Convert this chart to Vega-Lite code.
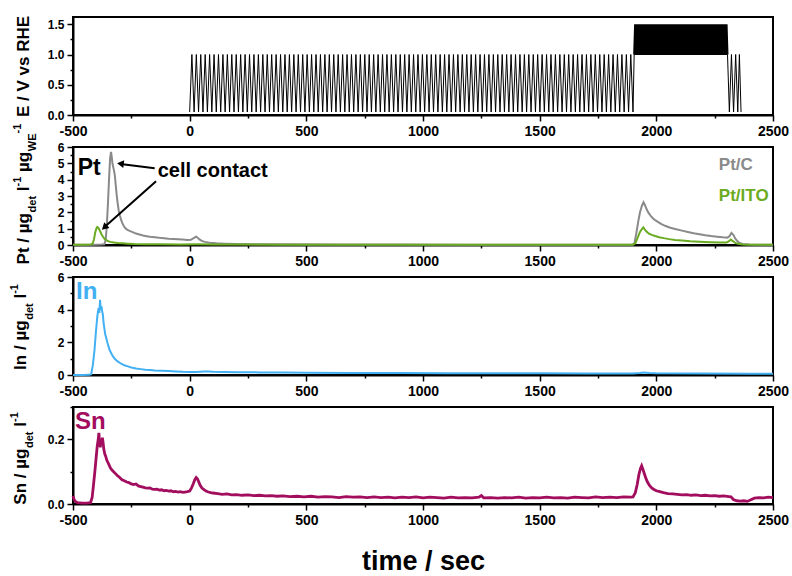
{
  "$schema": "https://vega.github.io/schema/vega-lite/v6.json",
  "padding": {"left": 7, "top": 14, "right": 10, "bottom": 0},
  "spacing": 32,
  "bounds": "flush",
  "config": {
    "font": "Liberation Sans",
    "view": {"stroke": "#000", "strokeWidth": 2},
    "axis": {"grid": false, "domainColor": "#000", "domainWidth": 2, "tickColor": "#000", "tickWidth": 1.5, "labelFont": "Liberation Sans", "labelFontWeight": "bold", "labelColor": "#000", "labelFlush": false, "labelOverlap": false, "labelPadding": 3, "titleFont": "Liberation Sans", "titleFontWeight": "bold", "titleColor": "#000"},
    "axisX": {"labelFontSize": 14},
    "axisY": {"labelFontSize": 12, "titleFontSize": 17, "titleBaseline": "alphabetic", "titleX": -45}
  },
  "datasets": {
    "E": [
      {"t":0,"E":0.05},{"t":9.5,"E":1},{"t":19,"E":0.05},{"t":28.5,"E":1},{"t":38,"E":0.05},{"t":47.5,"E":1},{"t":57,"E":0.05},{"t":66.5,"E":1},{"t":76,"E":0.05},{"t":85.5,"E":1},
      {"t":95,"E":0.05},{"t":104.5,"E":1},{"t":114,"E":0.05},{"t":123.5,"E":1},{"t":133,"E":0.05},{"t":142.5,"E":1},{"t":152,"E":0.05},{"t":161.5,"E":1},{"t":171,"E":0.05},{"t":180.5,"E":1},
      {"t":190,"E":0.05},{"t":199.5,"E":1},{"t":209,"E":0.05},{"t":218.5,"E":1},{"t":228,"E":0.05},{"t":237.5,"E":1},{"t":247,"E":0.05},{"t":256.5,"E":1},{"t":266,"E":0.05},{"t":275.5,"E":1},
      {"t":285,"E":0.05},{"t":294.5,"E":1},{"t":304,"E":0.05},{"t":313.5,"E":1},{"t":323,"E":0.05},{"t":332.5,"E":1},{"t":342,"E":0.05},{"t":351.5,"E":1},{"t":361,"E":0.05},{"t":370.5,"E":1},
      {"t":380,"E":0.05},{"t":389.5,"E":1},{"t":399,"E":0.05},{"t":408.5,"E":1},{"t":418,"E":0.05},{"t":427.5,"E":1},{"t":437,"E":0.05},{"t":446.5,"E":1},{"t":456,"E":0.05},{"t":465.5,"E":1},
      {"t":475,"E":0.05},{"t":484.5,"E":1},{"t":494,"E":0.05},{"t":503.5,"E":1},{"t":513,"E":0.05},{"t":522.5,"E":1},{"t":532,"E":0.05},{"t":541.5,"E":1},{"t":551,"E":0.05},{"t":560.5,"E":1},
      {"t":570,"E":0.05},{"t":579.5,"E":1},{"t":589,"E":0.05},{"t":598.5,"E":1},{"t":608,"E":0.05},{"t":617.5,"E":1},{"t":627,"E":0.05},{"t":636.5,"E":1},{"t":646,"E":0.05},{"t":655.5,"E":1},
      {"t":665,"E":0.05},{"t":674.5,"E":1},{"t":684,"E":0.05},{"t":693.5,"E":1},{"t":703,"E":0.05},{"t":712.5,"E":1},{"t":722,"E":0.05},{"t":731.5,"E":1},{"t":741,"E":0.05},{"t":750.5,"E":1},
      {"t":760,"E":0.05},{"t":769.5,"E":1},{"t":779,"E":0.05},{"t":788.5,"E":1},{"t":798,"E":0.05},{"t":807.5,"E":1},{"t":817,"E":0.05},{"t":826.5,"E":1},{"t":836,"E":0.05},{"t":845.5,"E":1},
      {"t":855,"E":0.05},{"t":864.5,"E":1},{"t":874,"E":0.05},{"t":883.5,"E":1},{"t":893,"E":0.05},{"t":902.5,"E":1},{"t":912,"E":0.05},{"t":921.5,"E":1},{"t":931,"E":0.05},{"t":940.5,"E":1},
      {"t":950,"E":0.05},{"t":959.5,"E":1},{"t":969,"E":0.05},{"t":978.5,"E":1},{"t":988,"E":0.05},{"t":997.5,"E":1},{"t":1007,"E":0.05},{"t":1016.5,"E":1},{"t":1026,"E":0.05},{"t":1035.5,"E":1},
      {"t":1045,"E":0.05},{"t":1054.5,"E":1},{"t":1064,"E":0.05},{"t":1073.5,"E":1},{"t":1083,"E":0.05},{"t":1092.5,"E":1},{"t":1102,"E":0.05},{"t":1111.5,"E":1},{"t":1121,"E":0.05},{"t":1130.5,"E":1},
      {"t":1140,"E":0.05},{"t":1149.5,"E":1},{"t":1159,"E":0.05},{"t":1168.5,"E":1},{"t":1178,"E":0.05},{"t":1187.5,"E":1},{"t":1197,"E":0.05},{"t":1206.5,"E":1},{"t":1216,"E":0.05},{"t":1225.5,"E":1},
      {"t":1235,"E":0.05},{"t":1244.5,"E":1},{"t":1254,"E":0.05},{"t":1263.5,"E":1},{"t":1273,"E":0.05},{"t":1282.5,"E":1},{"t":1292,"E":0.05},{"t":1301.5,"E":1},{"t":1311,"E":0.05},{"t":1320.5,"E":1},
      {"t":1330,"E":0.05},{"t":1339.5,"E":1},{"t":1349,"E":0.05},{"t":1358.5,"E":1},{"t":1368,"E":0.05},{"t":1377.5,"E":1},{"t":1387,"E":0.05},{"t":1396.5,"E":1},{"t":1406,"E":0.05},{"t":1415.5,"E":1},
      {"t":1425,"E":0.05},{"t":1434.5,"E":1},{"t":1444,"E":0.05},{"t":1453.5,"E":1},{"t":1463,"E":0.05},{"t":1472.5,"E":1},{"t":1482,"E":0.05},{"t":1491.5,"E":1},{"t":1501,"E":0.05},{"t":1510.5,"E":1},
      {"t":1520,"E":0.05},{"t":1529.5,"E":1},{"t":1539,"E":0.05},{"t":1548.5,"E":1},{"t":1558,"E":0.05},{"t":1567.5,"E":1},{"t":1577,"E":0.05},{"t":1586.5,"E":1},{"t":1596,"E":0.05},{"t":1605.5,"E":1},
      {"t":1615,"E":0.05},{"t":1624.5,"E":1},{"t":1634,"E":0.05},{"t":1643.5,"E":1},{"t":1653,"E":0.05},{"t":1662.5,"E":1},{"t":1672,"E":0.05},{"t":1681.5,"E":1},{"t":1691,"E":0.05},{"t":1700.5,"E":1},
      {"t":1710,"E":0.05},{"t":1719.5,"E":1},{"t":1729,"E":0.05},{"t":1738.5,"E":1},{"t":1748,"E":0.05},{"t":1757.5,"E":1},{"t":1767,"E":0.05},{"t":1776.5,"E":1},{"t":1786,"E":0.05},{"t":1795.5,"E":1},
      {"t":1805,"E":0.05},{"t":1814.5,"E":1},{"t":1824,"E":0.05},{"t":1833.5,"E":1},{"t":1843,"E":0.05},{"t":1852.5,"E":1},{"t":1862,"E":0.05},{"t":1871.5,"E":1},{"t":1881,"E":0.05},{"t":1890.5,"E":1},
      {"t":1900,"E":0.05},{"t":1905,"E":1},
      {"t":2305,"E":1},{"t":2313,"E":0.05},{"t":2322,"E":1},{"t":2331,"E":0.05},{"t":2340,"E":1},{"t":2349,"E":0.05},{"t":2356,"E":1},{"t":2363,"E":0.05}
    ],
    "block": [
      {"t":1905,"E":1},{"t":1909,"E":1.5},{"t":1913,"E":1},{"t":1917,"E":1.5},{"t":1921,"E":1},{"t":1925,"E":1.5},{"t":1929,"E":1},{"t":1933,"E":1.5},{"t":1937,"E":1},{"t":1941,"E":1.5},
      {"t":1945,"E":1},{"t":1949,"E":1.5},{"t":1953,"E":1},{"t":1957,"E":1.5},{"t":1961,"E":1},{"t":1965,"E":1.5},{"t":1969,"E":1},{"t":1973,"E":1.5},{"t":1977,"E":1},{"t":1981,"E":1.5},
      {"t":1985,"E":1},{"t":1989,"E":1.5},{"t":1993,"E":1},{"t":1997,"E":1.5},{"t":2001,"E":1},{"t":2005,"E":1.5},{"t":2009,"E":1},{"t":2013,"E":1.5},{"t":2017,"E":1},{"t":2021,"E":1.5},
      {"t":2025,"E":1},{"t":2029,"E":1.5},{"t":2033,"E":1},{"t":2037,"E":1.5},{"t":2041,"E":1},{"t":2045,"E":1.5},{"t":2049,"E":1},{"t":2053,"E":1.5},{"t":2057,"E":1},{"t":2061,"E":1.5},
      {"t":2065,"E":1},{"t":2069,"E":1.5},{"t":2073,"E":1},{"t":2077,"E":1.5},{"t":2081,"E":1},{"t":2085,"E":1.5},{"t":2089,"E":1},{"t":2093,"E":1.5},{"t":2097,"E":1},{"t":2101,"E":1.5},
      {"t":2105,"E":1},{"t":2109,"E":1.5},{"t":2113,"E":1},{"t":2117,"E":1.5},{"t":2121,"E":1},{"t":2125,"E":1.5},{"t":2129,"E":1},{"t":2133,"E":1.5},{"t":2137,"E":1},{"t":2141,"E":1.5},
      {"t":2145,"E":1},{"t":2149,"E":1.5},{"t":2153,"E":1},{"t":2157,"E":1.5},{"t":2161,"E":1},{"t":2165,"E":1.5},{"t":2169,"E":1},{"t":2173,"E":1.5},{"t":2177,"E":1},{"t":2181,"E":1.5},
      {"t":2185,"E":1},{"t":2189,"E":1.5},{"t":2193,"E":1},{"t":2197,"E":1.5},{"t":2201,"E":1},{"t":2205,"E":1.5},{"t":2209,"E":1},{"t":2213,"E":1.5},{"t":2217,"E":1},{"t":2221,"E":1.5},
      {"t":2225,"E":1},{"t":2229,"E":1.5},{"t":2233,"E":1},{"t":2237,"E":1.5},{"t":2241,"E":1},{"t":2245,"E":1.5},{"t":2249,"E":1},{"t":2253,"E":1.5},{"t":2257,"E":1},{"t":2261,"E":1.5},
      {"t":2265,"E":1},{"t":2269,"E":1.5},{"t":2273,"E":1},{"t":2277,"E":1.5},{"t":2281,"E":1},{"t":2285,"E":1.5},{"t":2289,"E":1},{"t":2293,"E":1.5},{"t":2297,"E":1},{"t":2301,"E":1.5},
      {"t":2305,"E":1}
    ],
    "pt": [
      {"s":"Pt/C","t":-500,"v":0.02},{"s":"Pt/C","t":-470,"v":0.01},{"s":"Pt/C","t":-440,"v":0.02},{"s":"Pt/C","t":-410,"v":0.02},{"s":"Pt/C","t":-380,"v":0.03},{"s":"Pt/C","t":-366,"v":0.04},
      {"s":"Pt/C","t":-360,"v":0.3},{"s":"Pt/C","t":-355,"v":1.2},{"s":"Pt/C","t":-350,"v":2.6},{"s":"Pt/C","t":-345,"v":4.2},{"s":"Pt/C","t":-341,"v":5.3},{"s":"Pt/C","t":-337,"v":5.7},
      {"s":"Pt/C","t":-334,"v":5.4},{"s":"Pt/C","t":-331,"v":5.0},{"s":"Pt/C","t":-328,"v":4.8},{"s":"Pt/C","t":-325,"v":4.6},{"s":"Pt/C","t":-321,"v":4.3},{"s":"Pt/C","t":-317,"v":3.7},
      {"s":"Pt/C","t":-313,"v":3.1},{"s":"Pt/C","t":-309,"v":2.6},{"s":"Pt/C","t":-304,"v":2.1},{"s":"Pt/C","t":-299,"v":1.8},{"s":"Pt/C","t":-294,"v":1.55},{"s":"Pt/C","t":-289,"v":1.35},
      {"s":"Pt/C","t":-283,"v":1.18},{"s":"Pt/C","t":-277,"v":1.05},{"s":"Pt/C","t":-270,"v":0.96},{"s":"Pt/C","t":-262,"v":0.9},{"s":"Pt/C","t":-252,"v":0.83},{"s":"Pt/C","t":-242,"v":0.77},
      {"s":"Pt/C","t":-230,"v":0.7},{"s":"Pt/C","t":-215,"v":0.64},{"s":"Pt/C","t":-200,"v":0.58},{"s":"Pt/C","t":-185,"v":0.54},{"s":"Pt/C","t":-170,"v":0.5},{"s":"Pt/C","t":-150,"v":0.47},
      {"s":"Pt/C","t":-130,"v":0.44},{"s":"Pt/C","t":-110,"v":0.42},{"s":"Pt/C","t":-90,"v":0.39},{"s":"Pt/C","t":-70,"v":0.37},{"s":"Pt/C","t":-50,"v":0.35},{"s":"Pt/C","t":-30,"v":0.33},
      {"s":"Pt/C","t":-10,"v":0.31},{"s":"Pt/C","t":5,"v":0.32},{"s":"Pt/C","t":15,"v":0.4},{"s":"Pt/C","t":22,"v":0.47},{"s":"Pt/C","t":28,"v":0.51},{"s":"Pt/C","t":34,"v":0.45},
      {"s":"Pt/C","t":42,"v":0.34},{"s":"Pt/C","t":52,"v":0.25},{"s":"Pt/C","t":65,"v":0.19},{"s":"Pt/C","t":85,"v":0.14},{"s":"Pt/C","t":115,"v":0.1},{"s":"Pt/C","t":150,"v":0.08},
      {"s":"Pt/C","t":200,"v":0.06},{"s":"Pt/C","t":300,"v":0.05},{"s":"Pt/C","t":450,"v":0.04},{"s":"Pt/C","t":650,"v":0.03},{"s":"Pt/C","t":900,"v":0.03},{"s":"Pt/C","t":1200,"v":0.02},
      {"s":"Pt/C","t":1500,"v":0.02},{"s":"Pt/C","t":1800,"v":0.02},{"s":"Pt/C","t":1898,"v":0.02},{"s":"Pt/C","t":1906,"v":0.1},{"s":"Pt/C","t":1914,"v":0.7},{"s":"Pt/C","t":1922,"v":1.4},
      {"s":"Pt/C","t":1930,"v":2.0},{"s":"Pt/C","t":1938,"v":2.4},{"s":"Pt/C","t":1945,"v":2.62},{"s":"Pt/C","t":1951,"v":2.45},{"s":"Pt/C","t":1958,"v":2.2},{"s":"Pt/C","t":1966,"v":1.98},
      {"s":"Pt/C","t":1975,"v":1.8},{"s":"Pt/C","t":1985,"v":1.64},{"s":"Pt/C","t":1995,"v":1.52},{"s":"Pt/C","t":2008,"v":1.4},{"s":"Pt/C","t":2022,"v":1.28},{"s":"Pt/C","t":2040,"v":1.16},
      {"s":"Pt/C","t":2060,"v":1.06},{"s":"Pt/C","t":2085,"v":0.96},{"s":"Pt/C","t":2110,"v":0.88},{"s":"Pt/C","t":2135,"v":0.8},{"s":"Pt/C","t":2160,"v":0.72},{"s":"Pt/C","t":2185,"v":0.66},
      {"s":"Pt/C","t":2210,"v":0.6},{"s":"Pt/C","t":2235,"v":0.55},{"s":"Pt/C","t":2260,"v":0.51},{"s":"Pt/C","t":2285,"v":0.47},{"s":"Pt/C","t":2305,"v":0.45},{"s":"Pt/C","t":2314,"v":0.55},
      {"s":"Pt/C","t":2322,"v":0.74},{"s":"Pt/C","t":2330,"v":0.62},{"s":"Pt/C","t":2338,"v":0.4},{"s":"Pt/C","t":2347,"v":0.24},{"s":"Pt/C","t":2357,"v":0.12},{"s":"Pt/C","t":2370,"v":0.06},
      {"s":"Pt/C","t":2400,"v":0.03},{"s":"Pt/C","t":2450,"v":0.02},{"s":"Pt/C","t":2500,"v":0.02},
      {"s":"Pt/ITO","t":-500,"v":0.02},{"s":"Pt/ITO","t":-460,"v":0.02},{"s":"Pt/ITO","t":-425,"v":0.03},{"s":"Pt/ITO","t":-416,"v":0.08},{"s":"Pt/ITO","t":-410,"v":0.35},{"s":"Pt/ITO","t":-405,"v":0.75},
      {"s":"Pt/ITO","t":-400,"v":1.0},{"s":"Pt/ITO","t":-396,"v":1.1},{"s":"Pt/ITO","t":-392,"v":1.06},{"s":"Pt/ITO","t":-388,"v":0.96},{"s":"Pt/ITO","t":-383,"v":0.82},{"s":"Pt/ITO","t":-378,"v":0.66},
      {"s":"Pt/ITO","t":-372,"v":0.52},{"s":"Pt/ITO","t":-366,"v":0.4},{"s":"Pt/ITO","t":-359,"v":0.31},{"s":"Pt/ITO","t":-350,"v":0.24},{"s":"Pt/ITO","t":-340,"v":0.19},{"s":"Pt/ITO","t":-325,"v":0.15},
      {"s":"Pt/ITO","t":-308,"v":0.12},{"s":"Pt/ITO","t":-288,"v":0.1},{"s":"Pt/ITO","t":-265,"v":0.08},{"s":"Pt/ITO","t":-235,"v":0.06},{"s":"Pt/ITO","t":-190,"v":0.05},{"s":"Pt/ITO","t":-120,"v":0.04},
      {"s":"Pt/ITO","t":-40,"v":0.03},{"s":"Pt/ITO","t":20,"v":0.04},{"s":"Pt/ITO","t":40,"v":0.04},{"s":"Pt/ITO","t":100,"v":0.03},{"s":"Pt/ITO","t":400,"v":0.02},{"s":"Pt/ITO","t":800,"v":0.02},
      {"s":"Pt/ITO","t":1200,"v":0.02},{"s":"Pt/ITO","t":1600,"v":0.02},{"s":"Pt/ITO","t":1900,"v":0.02},{"s":"Pt/ITO","t":1910,"v":0.1},{"s":"Pt/ITO","t":1920,"v":0.45},{"s":"Pt/ITO","t":1930,"v":0.8},
      {"s":"Pt/ITO","t":1938,"v":0.98},{"s":"Pt/ITO","t":1944,"v":1.08},{"s":"Pt/ITO","t":1950,"v":0.96},{"s":"Pt/ITO","t":1958,"v":0.82},{"s":"Pt/ITO","t":1968,"v":0.7},{"s":"Pt/ITO","t":1980,"v":0.62},
      {"s":"Pt/ITO","t":1995,"v":0.55},{"s":"Pt/ITO","t":2012,"v":0.48},{"s":"Pt/ITO","t":2032,"v":0.42},{"s":"Pt/ITO","t":2055,"v":0.36},{"s":"Pt/ITO","t":2080,"v":0.31},{"s":"Pt/ITO","t":2110,"v":0.27},
      {"s":"Pt/ITO","t":2145,"v":0.23},{"s":"Pt/ITO","t":2185,"v":0.2},{"s":"Pt/ITO","t":2230,"v":0.17},{"s":"Pt/ITO","t":2270,"v":0.15},{"s":"Pt/ITO","t":2300,"v":0.15},{"s":"Pt/ITO","t":2310,"v":0.22},
      {"s":"Pt/ITO","t":2319,"v":0.33},{"s":"Pt/ITO","t":2328,"v":0.24},{"s":"Pt/ITO","t":2338,"v":0.13},{"s":"Pt/ITO","t":2350,"v":0.07},{"s":"Pt/ITO","t":2370,"v":0.03},{"s":"Pt/ITO","t":2420,"v":0.02},
      {"s":"Pt/ITO","t":2500,"v":0.02}
    ],
    "ptlab": [{"s":"Pt/C","t":2268,"v":4.62},{"s":"Pt/ITO","t":2268,"v":2.68}],
    "notes": [
      {"label":"Pt","t":-480,"v":4.27},
      {"label":"cell contact","t":-137,"v":4.17}
    ],
    "arrows": [
      {"id":1,"t":-150,"v":4.7,"t2":-296,"v2":4.96},
      {"id":2,"t":-144,"v":3.9,"t2":-361,"v2":1.15}
    ],
    "heads": [
      {"id":1,"t":-292,"v":4.97},
      {"id":2,"t":-362,"v":1.12}
    ],
    "inn": [
      {"t":-500,"v":0.0},{"t":-460,"v":0.0},{"t":-430,"v":0.01},{"t":-422,"v":0.05},{"t":-415,"v":0.6},{"t":-408,"v":1.5},{"t":-402,"v":2.6},{"t":-397,"v":3.4},
      {"t":-393,"v":3.9},{"t":-390,"v":4.1},{"t":-387,"v":3.8},{"t":-384,"v":4.6},{"t":-381,"v":4.0},{"t":-378,"v":4.2},{"t":-375,"v":3.9},{"t":-372,"v":3.7},
      {"t":-369,"v":3.2},{"t":-366,"v":2.9},{"t":-362,"v":2.5},{"t":-358,"v":2.3},{"t":-353,"v":2.0},{"t":-348,"v":1.75},{"t":-342,"v":1.5},{"t":-335,"v":1.3},
      {"t":-328,"v":1.12},{"t":-320,"v":0.98},{"t":-310,"v":0.85},{"t":-300,"v":0.75},{"t":-290,"v":0.66},{"t":-280,"v":0.6},{"t":-265,"v":0.53},{"t":-250,"v":0.46},
      {"t":-230,"v":0.4},{"t":-210,"v":0.36},{"t":-190,"v":0.32},{"t":-170,"v":0.3},{"t":-150,"v":0.28},{"t":-120,"v":0.26},{"t":-90,"v":0.24},{"t":-60,"v":0.22},
      {"t":-30,"v":0.2},{"t":0,"v":0.19},{"t":30,"v":0.19},{"t":60,"v":0.21},{"t":80,"v":0.22},{"t":100,"v":0.2},{"t":150,"v":0.18},{"t":200,"v":0.17},
      {"t":300,"v":0.16},{"t":400,"v":0.15},{"t":500,"v":0.14},{"t":700,"v":0.13},{"t":900,"v":0.12},{"t":1100,"v":0.11},{"t":1300,"v":0.1},{"t":1500,"v":0.1},
      {"t":1700,"v":0.09},{"t":1900,"v":0.09},{"t":1930,"v":0.12},{"t":1945,"v":0.15},{"t":1970,"v":0.12},{"t":2000,"v":0.1},{"t":2200,"v":0.09},{"t":2400,"v":0.08},{"t":2500,"v":0.08}
    ],
    "inlab": [{"label":"In","t":-487,"v":4.63}],
    "sn": [
      {"t":-500,"v":0.025},{"t":-496,"v":0.015},{"t":-490,"v":0.008},{"t":-480,"v":0.004},{"t":-460,"v":0.003},{"t":-440,"v":0.003},{"t":-425,"v":0.004},{"t":-418,"v":0.02},
      {"t":-412,"v":0.06},{"t":-405,"v":0.11},{"t":-400,"v":0.15},{"t":-396,"v":0.18},{"t":-392,"v":0.2},{"t":-389,"v":0.22},{"t":-386,"v":0.19},{"t":-383,"v":0.175},
      {"t":-380,"v":0.2},{"t":-377,"v":0.185},{"t":-374,"v":0.205},{"t":-371,"v":0.19},{"t":-368,"v":0.17},{"t":-364,"v":0.155},{"t":-360,"v":0.148},{"t":-355,"v":0.135},
      {"t":-350,"v":0.128},{"t":-345,"v":0.12},{"t":-340,"v":0.112},{"t":-333,"v":0.105},{"t":-326,"v":0.1},{"t":-318,"v":0.094},{"t":-310,"v":0.088},{"t":-300,"v":0.082},
      {"t":-290,"v":0.075},{"t":-280,"v":0.072},{"t":-270,"v":0.068},{"t":-260,"v":0.066},{"t":-250,"v":0.062},{"t":-240,"v":0.06},{"t":-230,"v":0.062},{"t":-220,"v":0.056},
      {"t":-210,"v":0.054},{"t":-200,"v":0.052},{"t":-190,"v":0.05},{"t":-180,"v":0.049},{"t":-170,"v":0.05},{"t":-160,"v":0.046},{"t":-150,"v":0.045},{"t":-140,"v":0.046},
      {"t":-130,"v":0.043},{"t":-120,"v":0.044},{"t":-110,"v":0.041},{"t":-100,"v":0.042},{"t":-90,"v":0.04},{"t":-80,"v":0.041},{"t":-70,"v":0.038},{"t":-60,"v":0.039},
      {"t":-50,"v":0.037},{"t":-40,"v":0.038},{"t":-30,"v":0.036},{"t":-20,"v":0.037},{"t":-10,"v":0.038},{"t":0,"v":0.04},{"t":8,"v":0.05},{"t":15,"v":0.062},
      {"t":22,"v":0.075},{"t":28,"v":0.082},{"t":33,"v":0.078},{"t":38,"v":0.07},{"t":45,"v":0.058},{"t":52,"v":0.05},{"t":60,"v":0.045},{"t":70,"v":0.04},
      {"t":80,"v":0.037},{"t":90,"v":0.035},{"t":100,"v":0.034},{"t":120,"v":0.032},{"t":140,"v":0.03},{"t":160,"v":0.031},{"t":180,"v":0.028},{"t":200,"v":0.029},
      {"t":225,"v":0.027},{"t":250,"v":0.028},{"t":275,"v":0.026},{"t":300,"v":0.027},{"t":325,"v":0.025},{"t":350,"v":0.026},{"t":375,"v":0.024},{"t":400,"v":0.025},
      {"t":430,"v":0.023},{"t":460,"v":0.024},{"t":490,"v":0.022},{"t":520,"v":0.024},{"t":550,"v":0.021},{"t":580,"v":0.023},{"t":610,"v":0.022},{"t":640,"v":0.02},
      {"t":670,"v":0.023},{"t":700,"v":0.021},{"t":730,"v":0.022},{"t":760,"v":0.02},{"t":790,"v":0.022},{"t":820,"v":0.02},{"t":850,"v":0.021},{"t":880,"v":0.019},
      {"t":910,"v":0.021},{"t":940,"v":0.02},{"t":970,"v":0.022},{"t":1000,"v":0.019},{"t":1030,"v":0.021},{"t":1060,"v":0.02},{"t":1090,"v":0.018},{"t":1120,"v":0.021},
      {"t":1150,"v":0.019},{"t":1180,"v":0.02},{"t":1210,"v":0.019},{"t":1240,"v":0.021},{"t":1250,"v":0.026},{"t":1260,"v":0.019},{"t":1290,"v":0.02},{"t":1320,"v":0.018},
      {"t":1350,"v":0.02},{"t":1380,"v":0.019},{"t":1410,"v":0.021},{"t":1440,"v":0.018},{"t":1470,"v":0.02},{"t":1500,"v":0.019},{"t":1530,"v":0.021},{"t":1560,"v":0.019},
      {"t":1590,"v":0.02},{"t":1620,"v":0.018},{"t":1650,"v":0.021},{"t":1680,"v":0.02},{"t":1710,"v":0.019},{"t":1740,"v":0.022},{"t":1770,"v":0.02},{"t":1800,"v":0.021},
      {"t":1830,"v":0.02},{"t":1860,"v":0.022},{"t":1890,"v":0.021},{"t":1900,"v":0.022},{"t":1910,"v":0.035},{"t":1918,"v":0.06},{"t":1925,"v":0.09},{"t":1932,"v":0.11},
      {"t":1937,"v":0.118},{"t":1942,"v":0.108},{"t":1948,"v":0.095},{"t":1955,"v":0.08},{"t":1962,"v":0.068},{"t":1970,"v":0.058},{"t":1980,"v":0.05},{"t":1990,"v":0.045},
      {"t":2000,"v":0.041},{"t":2015,"v":0.038},{"t":2030,"v":0.035},{"t":2050,"v":0.032},{"t":2070,"v":0.031},{"t":2090,"v":0.03},{"t":2110,"v":0.028},{"t":2130,"v":0.029},
      {"t":2150,"v":0.027},{"t":2170,"v":0.028},{"t":2190,"v":0.026},{"t":2210,"v":0.027},{"t":2230,"v":0.025},{"t":2250,"v":0.026},{"t":2270,"v":0.024},{"t":2290,"v":0.025},
      {"t":2310,"v":0.023},{"t":2320,"v":0.022},{"t":2330,"v":0.014},{"t":2345,"v":0.01},{"t":2360,"v":0.009},{"t":2375,"v":0.01},{"t":2390,"v":0.008},{"t":2405,"v":0.013},
      {"t":2420,"v":0.018},{"t":2440,"v":0.02},{"t":2460,"v":0.019},{"t":2480,"v":0.021},{"t":2500,"v":0.02}
    ],
    "snlab": [{"label":"Sn","t":-491,"v":0.231}]
  },
  "vconcat": [
    {
      "width": 700, "height": 98,
      "encoding": {
        "x": {"field":"t","type":"quantitative","scale":{"domain":[-500,2500],"nice":false},
          "axis":{"title":null,"values":[-500,-250,0,250,500,750,1000,1250,1500,1750,2000,2250,2500],"labelExpr":"datum.value % 500 == 0 ? '' + datum.value : ''","tickSize":{"condition":{"test":"datum.value % 500 != 0","value":3},"value":6}}},
        "y": {"field":"E","type":"quantitative","scale":{"domain":[0,1.62],"nice":false,"zero":false},
          "axis":{"title":"E / V vs RHE","values":[0,0.25,0.5,0.75,1,1.25,1.5],"labelExpr":"datum.value % 0.5 == 0 ? format(datum.value, '.1f') : ''","tickSize":{"condition":{"test":"datum.value % 0.5 != 0","value":3},"value":6}}}
      },
      "layer": [
        {"data":{"name":"E"},"mark":{"type":"line","color":"#000","strokeWidth":1,"strokeJoin":"bevel"}},
        {"data":{"name":"block"},"mark":{"type":"line","color":"#000","strokeWidth":2,"strokeJoin":"bevel"}}
      ]
    },
    {
      "width": 700, "height": 98,
      "resolve": {"axis": {"y": "independent"}},
      "encoding": {
        "x": {"field":"t","type":"quantitative","scale":{"domain":[-500,2500],"nice":false},
          "axis":{"title":null,"values":[-500,-250,0,250,500,750,1000,1250,1500,1750,2000,2250,2500],"labelExpr":"datum.value % 500 == 0 ? '' + datum.value : ''","tickSize":{"condition":{"test":"datum.value % 500 != 0","value":3},"value":6}}}
      },
      "layer": [
        {"data":{"name":"pt"},"mark":{"type":"line","strokeWidth":2},
          "encoding":{
            "y": {"field":"v","type":"quantitative","scale":{"domain":[0,6],"nice":false},
              "axis":{"orient":"left","title":"Pt / µg","titleAlign":"left","titleAngle":-90,"titleY":116.9,"titleX":-45,"values":[0,0.5,1,1.5,2,2.5,3,3.5,4,4.5,5,5.5,6],"labelExpr":"datum.value % 1 == 0 ? '' + datum.value : ''","tickSize":{"condition":{"test":"datum.value % 1 != 0","value":3},"value":6}}},
            "color":{"field":"s","type":"nominal","scale":{"domain":["Pt/C","Pt/ITO"],"range":["#8a8a8a","#6aab22"]},"legend":null}}},
        {"data":{"name":"ptlab"},"mark":{"type":"text","align":"left","baseline":"alphabetic","fontSize":17,"fontWeight":"bold","font":"Liberation Sans"},
          "encoding":{
            "y": {"field":"v","type":"quantitative","scale":{"domain":[0,6],"nice":false},
              "axis":{"orient":"left","domain":false,"ticks":false,"labels":false,"title":"det","titleFontSize":11,"titleAlign":"left","titleAngle":-90,"titleY":64.9,"titleX":-38}},
            "text":{"field":"s"},"color":{"field":"s","type":"nominal","legend":null}}},
        {"data":{"name":"notes"},"transform":[{"filter":"datum.label == 'Pt'"}],"mark":{"type":"text","align":"left","baseline":"alphabetic","fontSize":23,"fontWeight":"bold","color":"#000","font":"Liberation Sans"},
          "encoding":{
            "y": {"field":"v","type":"quantitative","scale":{"domain":[0,6],"nice":false},
              "axis":{"orient":"left","domain":false,"ticks":false,"labels":false,"title":"l","titleFontSize":17,"titleAlign":"left","titleAngle":-90,"titleY":43.7,"titleX":-45}},
            "text":{"field":"label"}}},
        {"data":{"name":"notes"},"transform":[{"filter":"datum.label == 'cell contact'"}],"mark":{"type":"text","align":"left","baseline":"alphabetic","fontSize":20,"fontWeight":"bold","color":"#000","font":"Liberation Sans"},
          "encoding":{
            "y": {"field":"v","type":"quantitative","scale":{"domain":[0,6],"nice":false},
              "axis":{"orient":"left","domain":false,"ticks":false,"labels":false,"title":"-1","titleFontSize":11,"titleAlign":"left","titleAngle":-90,"titleY":38.9,"titleX":-53}},
            "text":{"field":"label"}}},
        {"data":{"name":"arrows"},"mark":{"type":"rule","color":"#000","strokeWidth":2},
          "encoding":{
            "y": {"field":"v","type":"quantitative","scale":{"domain":[0,6],"nice":false},
              "axis":{"orient":"left","domain":false,"ticks":false,"labels":false,"title":"µg","titleFontSize":17,"titleAlign":"left","titleAngle":-90,"titleY":24.5,"titleX":-45}},
            "x2":{"field":"t2"},"y2":{"field":"v2"}}},
        {"data":{"name":"heads"},"transform":[{"filter":"datum.id == 1"}],"mark":{"type":"point","shape":"triangle","filled":true,"color":"#000","opacity":1,"size":60,"angle":277},
          "encoding":{
            "y": {"field":"v","type":"quantitative","scale":{"domain":[0,6],"nice":false},
              "axis":{"orient":"left","domain":false,"ticks":false,"labels":false,"title":"WE","titleFontSize":11,"titleAlign":"left","titleAngle":-90,"titleY":3.7,"titleX":-38}}}},
        {"data":{"name":"heads"},"transform":[{"filter":"datum.id == 2"}],"mark":{"type":"point","shape":"triangle","filled":true,"color":"#000","opacity":1,"size":60,"angle":228},
          "encoding":{
            "y": {"field":"v","type":"quantitative","scale":{"domain":[0,6],"nice":false},
              "axis":{"orient":"left","domain":false,"ticks":false,"labels":false,"title":"-1","titleFontSize":11,"titleAlign":"left","titleAngle":-90,"titleY":-14,"titleX":-53}}}}
      ]
    },
    {
      "width": 700, "height": 98,
      "resolve": {"axis": {"y": "independent"}},
      "encoding": {
        "x": {"field":"t","type":"quantitative","scale":{"domain":[-500,2500],"nice":false},
          "axis":{"title":null,"values":[-500,-250,0,250,500,750,1000,1250,1500,1750,2000,2250,2500],"labelExpr":"datum.value % 500 == 0 ? '' + datum.value : ''","tickSize":{"condition":{"test":"datum.value % 500 != 0","value":3},"value":6}}}
      },
      "layer": [
        {"data":{"name":"inn"},"mark":{"type":"line","strokeWidth":2,"color":"#42b0f2"},
          "encoding":{
            "y": {"field":"v","type":"quantitative","scale":{"domain":[0,6],"nice":false},
              "axis":{"orient":"left","title":"In / µg","titleAlign":"left","titleAngle":-90,"titleY":92.4,"titleX":-48,"values":[0,1,2,3,4,5,6],"labelExpr":"datum.value % 2 == 0 ? '' + datum.value : ''","tickSize":{"condition":{"test":"datum.value % 2 != 0","value":3},"value":6}}}}},
        {"data":{"name":"inlab"},"mark":{"type":"text","align":"left","baseline":"alphabetic","fontSize":24,"fontWeight":"bold","color":"#42b0f2","font":"Liberation Sans"},
          "encoding":{
            "y": {"field":"v","type":"quantitative","scale":{"domain":[0,6],"nice":false},
              "axis":{"orient":"left","domain":false,"ticks":false,"labels":false,"title":"det","titleFontSize":11,"titleAlign":"left","titleAngle":-90,"titleY":42.3,"titleX":-41}},
            "text":{"field":"label"}}},
        {"data":{"name":"inlab"},"mark":{"type":"text","opacity":0,"fontSize":1},
          "encoding":{
            "y": {"field":"v","type":"quantitative","scale":{"domain":[0,6],"nice":false},
              "axis":{"orient":"left","domain":false,"ticks":false,"labels":false,"title":"l","titleFontSize":17,"titleAlign":"left","titleAngle":-90,"titleY":21.1,"titleX":-48}},
            "text":{"field":"label"}}},
        {"data":{"name":"inlab"},"mark":{"type":"text","opacity":0,"fontSize":1},
          "encoding":{
            "y": {"field":"v","type":"quantitative","scale":{"domain":[0,6],"nice":false},
              "axis":{"orient":"left","domain":false,"ticks":false,"labels":false,"title":"-1","titleFontSize":11,"titleAlign":"left","titleAngle":-90,"titleY":16.3,"titleX":-56}},
            "text":{"field":"label"}}}
      ]
    },
    {
      "width": 700, "height": 97,
      "resolve": {"axis": {"y": "independent"}},
      "encoding": {
        "x": {"field":"t","type":"quantitative","scale":{"domain":[-500,2500],"nice":false},
          "axis":{"title":"time / sec","titleFontSize":27,"titlePadding":21,"values":[-500,-250,0,250,500,750,1000,1250,1500,1750,2000,2250,2500],"labelExpr":"datum.value % 500 == 0 ? '' + datum.value : ''","tickSize":{"condition":{"test":"datum.value % 500 != 0","value":3},"value":6}}}
      },
      "layer": [
        {"data":{"name":"sn"},"mark":{"type":"line","strokeWidth":2.8,"color":"#a20d5e"},
          "encoding":{
            "y": {"field":"v","type":"quantitative","scale":{"domain":[0,0.3],"nice":false},
              "axis":{"orient":"left","title":"Sn / µg","titleAlign":"left","titleAngle":-90,"titleY":97.2,"titleX":-48,"values":[0,0.1,0.2,0.3],"labelExpr":"datum.value == 0 || datum.value == 0.2 ? format(datum.value, '.1f') : ''","tickSize":{"condition":{"test":"datum.value == 0.1 || datum.value == 0.3","value":3},"value":6}}}}},
        {"data":{"name":"snlab"},"mark":{"type":"text","align":"left","baseline":"alphabetic","fontSize":24,"fontWeight":"bold","color":"#a20d5e","font":"Liberation Sans"},
          "encoding":{
            "y": {"field":"v","type":"quantitative","scale":{"domain":[0,0.3],"nice":false},
              "axis":{"orient":"left","domain":false,"ticks":false,"labels":false,"title":"det","titleFontSize":11,"titleAlign":"left","titleAngle":-90,"titleY":40.5,"titleX":-41}},
            "text":{"field":"label"}}},
        {"data":{"name":"snlab"},"mark":{"type":"text","opacity":0,"fontSize":1},
          "encoding":{
            "y": {"field":"v","type":"quantitative","scale":{"domain":[0,0.3],"nice":false},
              "axis":{"orient":"left","domain":false,"ticks":false,"labels":false,"title":"l","titleFontSize":17,"titleAlign":"left","titleAngle":-90,"titleY":19.3,"titleX":-48}},
            "text":{"field":"label"}}},
        {"data":{"name":"snlab"},"mark":{"type":"text","opacity":0,"fontSize":1},
          "encoding":{
            "y": {"field":"v","type":"quantitative","scale":{"domain":[0,0.3],"nice":false},
              "axis":{"orient":"left","domain":false,"ticks":false,"labels":false,"title":"-1","titleFontSize":11,"titleAlign":"left","titleAngle":-90,"titleY":14.5,"titleX":-56}},
            "text":{"field":"label"}}}
      ]
    }
  ]
}
